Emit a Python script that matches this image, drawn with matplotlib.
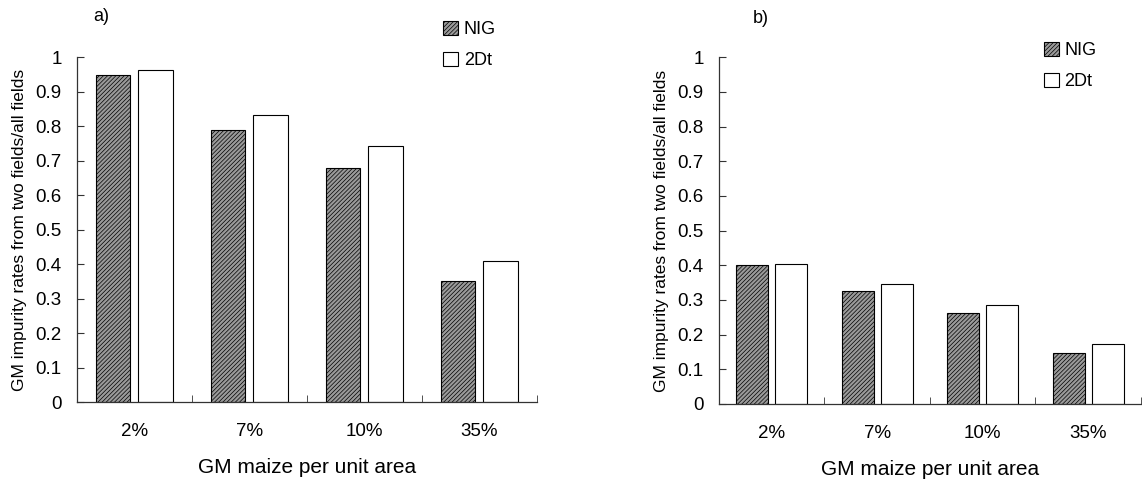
import matplotlib
matplotlib.use("Agg")
import matplotlib.pyplot as plt
import numpy as np

plt.rcParams['font.family'] = ['Liberation Sans', 'DejaVu Sans']
plt.rcParams['hatch.linewidth'] = 0.5

categories = ["2%", "7%", "10%", "35%"]
series_names = ["NIG", "2Dt"]

nig_a = [0.948, 0.788, 0.678, 0.351]
dt_a = [0.963, 0.833, 0.741, 0.410]

nig_b = [0.400, 0.325, 0.263, 0.146]
dt_b = [0.404, 0.345, 0.285, 0.172]

ylabel = "GM impurity rates from two fields/all fields"
xlabel = "GM maize per unit area"


def draw_panel(ax, nig, dt):
    x = np.arange(len(categories))
    w = 0.30
    b1 = ax.bar(x - 0.185, nig, w, facecolor="#9a9a9a", edgecolor="black",
                hatch="////////", linewidth=0.8, label=series_names[0])
    b2 = ax.bar(x + 0.185, dt, w, facecolor="white", edgecolor="black",
                linewidth=0.8, label=series_names[1])
    ax.set_xlim(-0.5, len(categories) - 0.5)
    ax.set_ylim(0, 1)
    ax.set_yticks(np.arange(0, 1.01, 0.1))
    ax.set_yticklabels(["0"] + ["%.1f" % v for v in np.arange(0.1, 0.95, 0.1)] + ["1"])
    ax.set_xticks(x)
    ax.set_xticklabels(categories)
    ax.set_xticks(np.arange(-0.5, len(categories), 1.0), minor=True)
    ax.tick_params(axis="x", which="major", length=0, pad=15, labelsize=13.5)
    ax.tick_params(axis="x", which="minor", direction="in", length=5, color="#333333")
    ax.tick_params(axis="y", direction="in", length=5, pad=11, labelsize=13.5,
                   color="#333333")
    for s in ["top", "right"]:
        ax.spines[s].set_visible(False)
    for s in ["left", "bottom"]:
        ax.spines[s].set_color("#333333")
        ax.spines[s].set_linewidth(0.9)
    ax.set_ylabel(ylabel, fontsize=12.5, labelpad=6)
    ax.set_xlabel(xlabel, fontsize=15, labelpad=13)
    return b1, b2


fig = plt.figure(figsize=(11.42, 4.83), dpi=100)
ax_a = fig.add_axes([0.0674, 0.1677, 0.4028, 0.714])
ax_b = fig.add_axes([0.6296, 0.1636, 0.3695, 0.718])

h_a = draw_panel(ax_a, nig_a, dt_a)
h_b = draw_panel(ax_b, nig_b, dt_b)

fig.text(0.082, 0.965, "a)", fontsize=13, va="center")
fig.text(0.659, 0.962, "b)", fontsize=13, va="center")

for ax, handles, anchor in [(ax_a, h_a, (0.388, 0.957)), (ax_b, h_b, (0.914, 0.914))]:
    ax.legend(handles, series_names, loc="upper left", bbox_to_anchor=anchor,
              bbox_transform=fig.transFigure, frameon=False, fontsize=13,
              handlelength=0.85, handleheight=0.85, handletextpad=0.3,
              labelspacing=0.75, borderaxespad=0, borderpad=0)

fig.savefig("out.png", dpi=100)
